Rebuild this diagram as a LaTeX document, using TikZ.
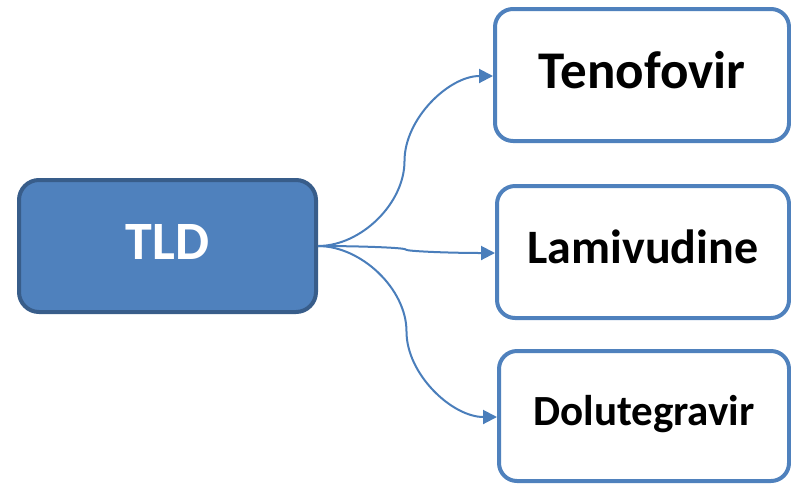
\documentclass[tikz,border=0pt]{standalone}
\usepackage{fontspec}
\setmainfont{Carlito}
\usetikzlibrary{arrows.meta,calc}
\definecolor{accent}{HTML}{4F81BD}
\definecolor{accentdark}{HTML}{385D8A}
\definecolor{connblue}{HTML}{4A7EBB}
\begin{document}
\begin{tikzpicture}[x=1pt,y=-1pt,
  rootbox/.style={draw=accentdark, fill=accent, line width=4pt, rounded corners=20pt,
    minimum width=297pt, minimum height=132pt, inner sep=0pt, text=white,
    font=\bfseries\fontsize{54}{60}\selectfont, text depth=8pt},
  leafbox/.style={draw=accent, fill=white, line width=4pt, rounded corners=18pt,
    minimum height=132pt, inner sep=0pt, text=black, text depth=8pt},
  conn/.style={draw=connblue, line width=2pt, -{Triangle[length=14pt,width=14pt]}}]
\useasboundingbox (0,0) rectangle (791,483);
\node[rootbox, text height=34pt] (tld) at (167.5,246) {TLD};
\node[leafbox, minimum width=294pt, text height=35pt, font=\bfseries\fontsize{53}{60}\selectfont] (ten) at (642,75) {Tenofovir};
\node[leafbox, minimum width=292pt, text height=30pt, font=\bfseries\fontsize{48}{56}\selectfont] (lam) at (643,252) {Lamivudine};
\node[leafbox, minimum width=290pt, minimum height=130pt, text height=27pt, font=\bfseries\fontsize{43}{50}\selectfont] (dol) at (644,416) {Dolutegravir};
\draw[conn] (tld.east) .. controls (361,246) and (404.5,203.5) .. (404.5,161)
  .. controls (404.5,118.5) and (449,76) .. (ten.west |- 0,76);
\draw[conn] (tld.east) .. controls (361,246) and (405.5,247.75) .. (405.5,249.5)
  .. controls (405.5,251.25) and (450,253) .. (lam.west |- 0,253);
\draw[conn] (tld.east) .. controls (361,246) and (406.5,288.75) .. (406.5,331.5)
  .. controls (406.5,374.25) and (452,417) .. (dol.west |- 0,417);
\end{tikzpicture}
\end{document}
